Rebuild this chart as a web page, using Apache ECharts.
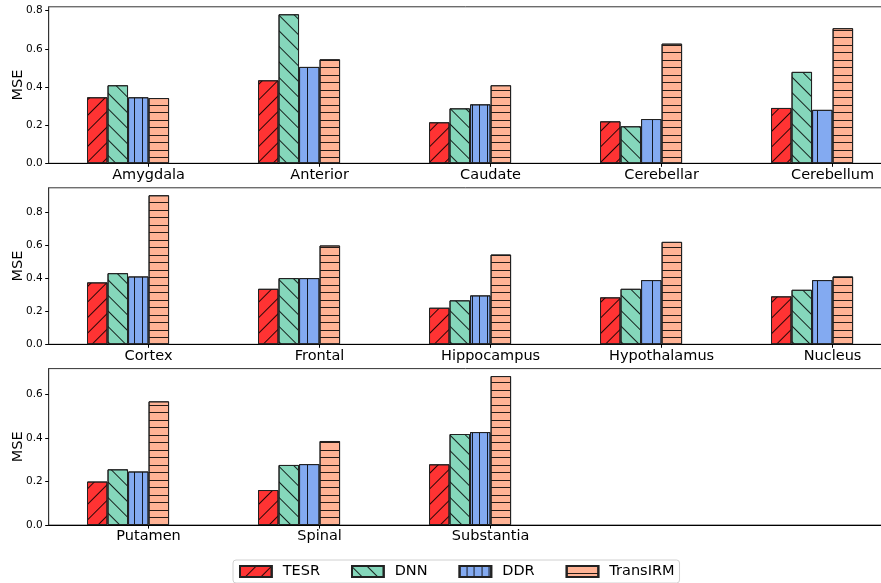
<!DOCTYPE html>
<html>
<head>
<meta charset="utf-8">
<script src="https://cdn.jsdelivr.net/npm/echarts@6/dist/echarts.min.js"></script>
<style>html,body{margin:0;padding:0;background:#fff;}#c{width:881px;height:583px;}</style>
</head>
<body>
<div id="c"></div>
<script>
// ---- data ----
const categories = ['Amygdala','Anterior','Caudate','Cerebellar','Cerebellum',
  'Cortex','Frontal','Hippocampus','Hypothalamus','Nucleus',
  'Putamen','Spinal','Substantia'];
const seriesNames = ['TESR','DNN','DDR','TransIRM'];
const tesr     = [0.346,0.435,0.215,0.220,0.290, 0.376,0.337,0.222,0.285,0.291, 0.200,0.161,0.279];
const dnn      = [0.409,0.781,0.288,0.194,0.479, 0.432,0.402,0.267,0.337,0.331, 0.256,0.276,0.418];
const ddr      = [0.346,0.505,0.309,0.232,0.280, 0.412,0.402,0.297,0.390,0.390, 0.246,0.280,0.427];
const transirm = [0.342,0.545,0.409,0.627,0.708, 0.905,0.600,0.545,0.622,0.412, 0.568,0.386,0.684];
const yTicksA = [0, 0.2, 0.4, 0.6, 0.8];
const yTicksB = [0, 0.2, 0.4, 0.6];

// ---- layout / style ----
const values = [tesr, dnn, ddr, transirm];
const colors = ['#ff3333', '#85d7bb', '#83aaf1', '#ffb395'];
const FONT = 'DejaVu Sans';
const perPanel = 5;
const barW = 0.12;            // bar width in axis units
const xMin = -0.284, xMax = 4.644;
const gridLeft = 48.7, gridWidth = 842.7, gridH = 156.5;
const gridTops = [6.8, 187.8, 368.6];
const panelTicks = [yTicksA, yTicksA, yTicksB];

const lineDecal = (rot, dashY) => ({
  symbol: 'rect', symbolSize: 1, dashArrayX: [1, 0], dashArrayY: dashY,
  rotation: rot, color: 'rgba(0,0,0,0.85)'
});
const decals = [
  lineDecal(-Math.PI / 4, [1, 10]),
  lineDecal(Math.PI / 4, [1, 10]),
  lineDecal(Math.PI / 2, [1, 6, 1, 7]),
  lineDecal(0, [1, 6, 1, 7])
];

const grids = [], xAxes = [], yAxes = [], series = [];
for (let p = 0; p < 3; p++) {
  const cats = categories.slice(p * perPanel, p * perPanel + perPanel);
  let pmax = 0;
  values.forEach(v => cats.forEach((c, j) => { pmax = Math.max(pmax, v[p * perPanel + j]); }));
  grids.push({ left: gridLeft, width: gridWidth, top: gridTops[p], height: gridH,
    outerBoundsMode: 'none', containLabel: false,
    show: true, borderColor: '#333', borderWidth: 1, backgroundColor: 'transparent' });
  const tickPos = cats.map((c, j) => j + 2.5 * barW);
  xAxes.push({
    type: 'value', gridIndex: p, min: xMin, max: xMax,
    axisLine: { show: true, onZero: false, lineStyle: { color: '#000', width: 1.2 } },
    axisTick: { show: true, length: 3.5, customValues: tickPos, lineStyle: { color: '#000', width: 1 } },
    axisLabel: { show: true, customValues: tickPos, margin: 4, fontFamily: FONT, fontSize: 14.5, color: '#000',
      formatter: v => cats[Math.round(v - 2.5 * barW)] || '' },
    splitLine: { show: false }
  });
  yAxes.push({
    type: 'value', gridIndex: p, min: 0, max: pmax * 1.05,
    name: 'MSE', nameLocation: 'middle', nameGap: 23, nameMoveOverlap: false,
    nameTextStyle: { fontFamily: FONT, fontSize: 14.5, color: '#000' },
    axisLine: { show: true, onZero: false, lineStyle: { color: '#333', width: 1 } },
    axisTick: { show: true, length: 3.5, customValues: panelTicks[p], lineStyle: { color: '#000' } },
    axisLabel: { show: true, customValues: panelTicks[p], margin: 6, fontFamily: FONT, fontSize: 10.5, color: '#000',
      formatter: v => v.toFixed(1) },
    splitLine: { show: false }
  });
  for (let s = 0; s < 4; s++) {
    series.push({
      type: 'bar', name: seriesNames[s], xAxisIndex: p, yAxisIndex: p,
      barWidth: 20.5, barGap: '-100%',
      data: cats.map((c, j) => [j + s * barW, values[s][p * perPanel + j]]),
      itemStyle: { color: colors[s], borderColor: '#222', borderWidth: 1, decal: decals[s] },
      emphasis: { disabled: true }, silent: true
    });
  }
}

const chart = echarts.init(document.getElementById('c'), null, { renderer: 'canvas' });
chart.setOption({
  animation: false,
  backgroundColor: '#fff',
  textStyle: { fontFamily: FONT },
  grid: grids, xAxis: xAxes, yAxis: yAxes, series: series,
  legend: {
    data: seriesNames, left: 233, top: 560, orient: 'horizontal',
    icon: 'rect', itemWidth: 31.7, itemHeight: 11, itemGap: 31,
    padding: [4, 5, 4, 6], borderColor: '#d0d0d0', borderWidth: 1, borderRadius: 3,
    textStyle: { fontFamily: FONT, fontSize: 14.5, color: '#000', padding: [0, 0, 0, 6] },
    selectedMode: false
  }
});
</script>
</body>
</html>
